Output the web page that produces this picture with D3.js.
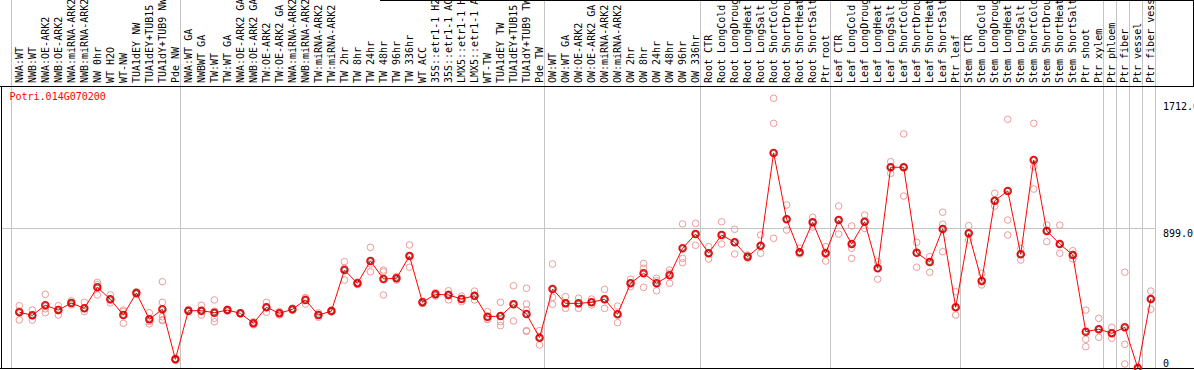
<!doctype html>
<html>
<head>
  <meta charset="utf-8">
  <title>Potri.014G070200</title>
  <script src="https://d3js.org/d3.v7.min.js"></script>
  <style>
    body { margin: 0; background: #fff; }
    svg { display: block; }
    text { font-family: "DejaVu Sans Mono", monospace; font-size: 10px; }
  </style>
</head>
<body>
<svg></svg>
<script>
var w = 1194, h = 370;

var geneId = 'Potri.014G070200';

var samples = [
  'NWA:WT', 'NWB:WT', 'NWA:OE-ARK2', 'NWB:OE-ARK2', 'NWA:miRNA-ARK2', 'NWB:miRNA-ARK2', 'NW 0hr', 'WT H2O', 'WT-NW',
  'TUA1dEY NW', 'TUA1dEY+TUB15 NW', 'TUA1dY+TUB9 NW', 'Pde NW',
  'NWA:WT GA', 'NWBWT GA', 'TW:WT', 'TW:WT GA', 'NWA:OE-ARK2 GA', 'NWB:OE-ARK2 GA', 'TW:OE-ARK2', 'TW:OE-ARK2 GA',
  'NWA:miRNA-ARK2 GA', 'NWB:miRNA-ARK2 GA', 'TW:miRNA-ARK2', 'TW:miRNA-ARK2', 'TW 2hr', 'TW 8hr', 'TW 24hr', 'TW 48hr',
  'TW 96hr', 'TW 336hr', 'WT ACC', '35S::etr1-1 H2O', '35S::etr1-1 ACC', 'LMX5::etr1-1 H2O', 'LMX5::etr1-1 ACC',
  'WT-TW', 'TUA1dEY TW', 'TUA1dEY+TUB15 TW', 'TUA1dY+TUB9 TW', 'Pde TW',
  'OW:WT', 'OW:WT GA', 'OW:OE-ARK2', 'OW:OE-ARK2 GA', 'OW:miRNA-ARK2', 'OW:miRNA-ARK2', 'OW 2hr', 'OW 8hr', 'OW 24hr',
  'OW 48hr', 'OW 96hr', 'OW 336hr',
  'Root CTR', 'Root LongCold', 'Root LongDrought', 'Root LongHeat', 'Root LongSalt', 'Root ShortCold', 'Root ShortDrought',
  'Root ShortHeat', 'Root ShortSalt', 'Ptr root',
  'Leaf CTR', 'Leaf LongCold', 'Leaf LongDrought', 'Leaf LongHeat', 'Leaf LongSalt', 'Leaf ShortCold', 'Leaf ShortDrought',
  'Leaf ShortHeat', 'Leaf ShortSalt', 'Ptr leaf',
  'Stem CTR', 'Stem LongCold', 'Stem LongDrought', 'Stem LongHeat', 'Stem LongSalt', 'Stem ShortCold', 'Stem ShortDrought',
  'Stem ShortHeat', 'Stem ShortSalt', 'Ptr shoot', 'Ptr xylem',
  'Ptr phloem', 'Ptr fiber', 'Ptr vessel', 'Ptr fiber vessel'
];

// number of samples in each block between grey separators
var groupSizes = [13, 28, 12, 10, 10, 11, 1, 1, 1, 1];

var means = [
  358, 338, 403, 372, 417, 383, 518, 441, 340, 482, 313, 377, 56,
  368, 368, 355, 372, 351, 287, 390, 351, 377, 437, 340, 366, 629, 544, 687, 572, 576, 719, 422, 473, 469, 443, 464,
  329, 334, 409, 347, 195,
  507, 415, 415, 422, 441, 345, 544, 608, 544, 595, 769, 860,
  737, 854, 807, 715, 785, 1381, 955, 743, 936, 737,
  950, 796, 939, 640, 1289, 1289, 740, 681, 893, 390,
  865, 559, 1074, 1137, 730, 1336, 880, 796, 726, 233, 249,
  223, 261, 0, 443
];

var replicates = [
  [400, 366, 308], [372, 335, 308], [473, 380, 355], [400, 375, 340], [432, 415, 405], [422, 383, 362],
  [550, 535, 469], [469, 437, 418], [372, 362, 287], [490, 482, 473], [355, 300, 283], [554, 422, 329, 304, 310],
  [50, 56, 62],
  [375, 368, 362], [403, 362, 340], [437, 365, 319, 297], [378, 372, 366], [355, 351, 347], [297, 287, 277],
  [422, 390, 358], [362, 351, 340], [385, 377, 370], [452, 448, 411], [354, 340, 326], [372, 366, 360],
  [683, 640, 565], [552, 544, 536], [775, 668, 618], [629, 618, 469], [587, 576, 565], [790, 720, 647],
  [430, 422, 414], [484, 473, 462], [496, 474, 437], [462, 443, 426], [494, 461, 437], [362, 313, 312],
  [422, 334, 297, 272], [528, 409, 302], [512, 411, 372, 240, 235], [240, 195, 148],
  [668, 454, 409], [458, 415, 383], [448, 415, 383], [443, 422, 405], [505, 441, 383], [398, 345, 291],
  [570, 544, 522], [672, 640, 518], [576, 560, 496], [629, 610, 544], [925, 704, 676], [929, 860, 788],
  [779, 737, 700], [939, 854, 796], [891, 807, 732], [725, 715, 705], [854, 785, 737], [1732, 1571, 833],
  [1047, 955, 886], [769, 743, 732], [968, 936, 905], [779, 745, 687],
  [1040, 950, 860], [912, 769, 704], [982, 939, 896], [683, 640, 570], [1325, 1289, 1250], [1503, 1289, 1104],
  [807, 740, 647], [715, 681, 615], [1000, 923, 747], [490, 390, 340],
  [914, 865, 822], [608, 559, 533], [1122, 1074, 1040], [1597, 950, 854], [767, 730, 693], [1571, 1293, 1149],
  [918, 880, 811], [918, 796, 737], [753, 726, 700], [372, 184, 137], [319, 249, 197],
  [261, 223, 191], [615, 152, 26], [0, 0, 0], [494, 443, 377]
];

var tickValues = [0, 899.0, 1712.6];
var tickLabels = ['0', '899.0', '1712.6'];

var svg = d3.select('svg')
  .attr('width', w)
  .attr('height', h);

svg.append('rect').attr('width', w).attr('height', h).attr('fill', '#fff');

var xScale = d3.scaleBand()
  .domain(d3.range(samples.length))
  .range([10.5, 1155]);
var yScale = d3.scaleLinear()
  .domain([0, 899])
  .range([368, 228]);

function px(i) {
  return xScale(i) + 8.8;
}

// block separators
var starts = [0];
groupSizes.forEach(function(n) { starts.push(starts[starts.length - 1] + n); });

svg.selectAll('line.sep')
  .data(starts)
  .enter()
  .append('line')
  .attr('class', 'sep')
  .attr('x1', function(d) { return Math.round(d < samples.length ? xScale(d) : xScale.range()[1]) + 0.5; })
  .attr('x2', function(d) { return Math.round(d < samples.length ? xScale(d) : xScale.range()[1]) + 0.5; })
  .attr('y1', 0)
  .attr('y2', 368)
  .attr('stroke', '#c4c4c4');

svg.append('line')
  .attr('x1', 2).attr('x2', Math.round(xScale.range()[1]) + 0.5)
  .attr('y1', Math.round(yScale(899)) + 0.5).attr('y2', Math.round(yScale(899)) + 0.5)
  .attr('stroke', '#c4c4c4');

// frame
var frame = [
  [0, 86.5, w, 86.5],
  [1.5, 86, 1.5, 369],
  [0, 368.5, w, 368.5],
  [380, 0.5, w, 0.5],
  [1193.5, 0, 1193.5, 87]
];
svg.selectAll('line.frame')
  .data(frame)
  .enter()
  .append('line')
  .attr('class', 'frame')
  .attr('x1', function(d) { return d[0]; })
  .attr('y1', function(d) { return d[1]; })
  .attr('x2', function(d) { return d[2]; })
  .attr('y2', function(d) { return d[3]; })
  .attr('stroke', '#000');

// sample names, written upward (long ones run off the top, as in the original)
svg.selectAll('text.sample')
  .data(samples)
  .enter()
  .append('text')
  .attr('class', 'sample')
  .attr('transform', function(d, i) { return 'translate(' + (px(i) + 3.6) + ',83) rotate(-90)'; })
  .attr('fill', '#000')
  .text(function(d) { return d; });

// replicate circles
var reps = [];
replicates.forEach(function(r, i) {
  r.forEach(function(v) { reps.push({ i: i, v: v }); });
});
svg.selectAll('circle.rep')
  .data(reps)
  .enter()
  .append('circle')
  .attr('class', 'rep')
  .attr('cx', function(d) { return px(d.i); })
  .attr('cy', function(d) { return yScale(d.v); })
  .attr('r', 3.3)
  .attr('fill', 'none')
  .attr('stroke', '#ec9a9a')
  .attr('stroke-width', 1);

var line = d3.line()
  .x(function(d, i) { return px(i); })
  .y(function(d) { return yScale(d); });

svg.append('path')
  .datum(means)
  .attr('d', line)
  .attr('fill', 'none')
  .attr('stroke', '#f00')
  .attr('stroke-width', 1);

svg.selectAll('circle.mean')
  .data(means)
  .enter()
  .append('circle')
  .attr('class', 'mean')
  .attr('cx', function(d, i) { return px(i); })
  .attr('cy', function(d) { return yScale(d); })
  .attr('r', 3.5)
  .attr('fill', 'none')
  .attr('stroke', '#f00')
  .attr('stroke-width', 1.5);

svg.selectAll('circle.meanc')
  .data(means)
  .enter()
  .append('circle')
  .attr('class', 'meanc')
  .attr('cx', function(d, i) { return px(i); })
  .attr('cy', function(d) { return yScale(d); })
  .attr('r', 2.5)
  .attr('fill', 'none')
  .attr('stroke', '#300')
  .attr('stroke-width', 0.6);

svg.append('text')
  .attr('x', 9.5)
  .attr('y', 100)
  .attr('fill', '#f00')
  .text(geneId);

// value axis on the right, no ticks
var yAxis = d3.axisRight(yScale)
  .tickValues(tickValues)
  .tickSize(0)
  .tickPadding(3)
  .tickFormat(function(d, i) { return tickLabels[i]; });

var ax = svg.append('g')
  .attr('transform', 'translate(1160,0)')
  .call(yAxis);
ax.select('.domain').remove();
ax.selectAll('text')
  .attr('font-family', '"DejaVu Sans Mono", monospace')
  .attr('font-size', 10)
  .attr('fill', '#000')
  .attr('dy', function(d) { return d === 0 ? '-0.2em' : '0.8em'; });
</script>
</body>
</html>
